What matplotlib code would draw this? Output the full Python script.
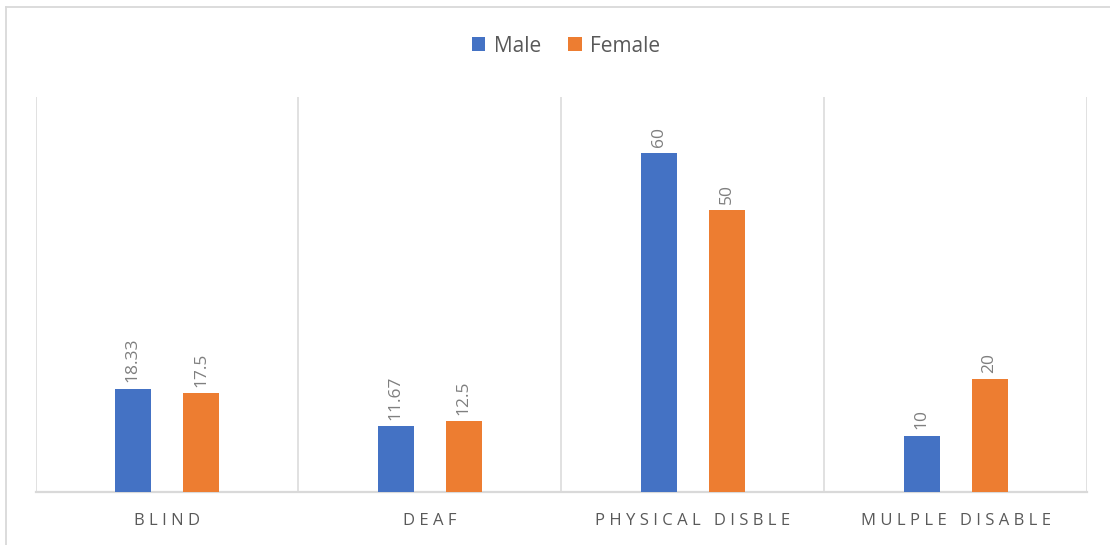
import matplotlib
matplotlib.use("Agg")
import matplotlib.pyplot as plt
from matplotlib.lines import Line2D
from matplotlib.patches import Patch
import numpy as np

# Data
categories = ["BLIND", "DEAF", "PHYSICAL DISBLE", "MULPLE DISABLE"]
male = [18.33, 11.67, 60, 10]
female = [17.5, 12.5, 50, 20]
series_names = ["Male", "Female"]

BLUE = "#4472C4"
ORANGE = "#ED7D31"
GRID = "#D9D9D9"
TEXT = "#595959"
LABEL = "#7F7F7F"
FONT = ["Open Sans", "DejaVu Sans"]

plt.rcParams["font.family"] = FONT

fig = plt.figure(figsize=(11.1, 5.45), dpi=100)
ax = fig.add_axes([35.5 / 1110, 1 - 492 / 545, (1087 - 35.5) / 1110, (492 - 97) / 545])

x = np.arange(len(categories))
width = 0.137
offset = 0.1295

bars_m = ax.bar(x - offset, male, width, color=BLUE, label=series_names[0], zorder=3)
bars_f = ax.bar(x + offset, female, width, color=ORANGE, label=series_names[1], zorder=3)

for bars in (bars_m, bars_f):
    ax.bar_label(bars, labels=[f"{v:g}" for v in bars.datavalues], rotation=90,
                 padding=4.5, color=LABEL, fontsize=12.5)

ax.set_xlim(-0.5, len(categories) - 0.5)
ax.set_ylim(0, 70)

# category separators
for b in np.arange(len(categories) + 1) - 0.5:
    ax.axvline(b, color=GRID, lw=1.1, zorder=1)

for s in ("top", "right", "left"):
    ax.spines[s].set_visible(False)
ax.spines["bottom"].set_color(GRID)
ax.spines["bottom"].set_linewidth(1.6)
ax.set_yticks([])

# spaced-out category names
spaced = ["   ".join(" ".join(w) for w in c.split(" ")) for c in categories]
ax.set_xticks(x)
ax.set_xticklabels(spaced, color=TEXT, fontsize=12)
ax.tick_params(axis="x", length=0, pad=15)

# legend
handles = [Patch(facecolor=BLUE, edgecolor="none"), Patch(facecolor=ORANGE, edgecolor="none")]
fig.legend(handles, series_names, loc="center", bbox_to_anchor=(566 / 1110, 1 - 46 / 545),
           ncol=2, frameon=False, fontsize=15, labelcolor=TEXT,
           handlelength=0.65, handleheight=0.65, handletextpad=0.4, columnspacing=1.3)

# outer chart border
fig.add_artist(Line2D([6 / 1110, 6 / 1110], [0, 1 - 7 / 545], color=GRID, lw=1.3,
                      transform=fig.transFigure))
fig.add_artist(Line2D([6 / 1110, 1], [1 - 7 / 545, 1 - 7 / 545], color=GRID, lw=1.3,
                      transform=fig.transFigure))

fig.savefig("out.png", dpi=100)
